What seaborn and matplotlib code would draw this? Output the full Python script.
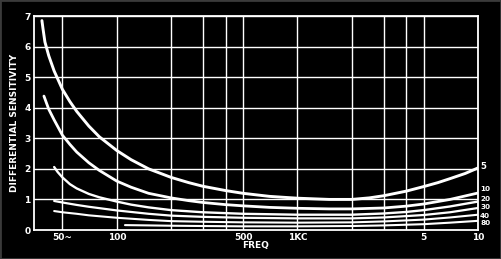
import matplotlib
matplotlib.use("Agg")
import matplotlib.pyplot as plt
import seaborn as sns
import pandas as pd
from matplotlib.ticker import FixedLocator, NullLocator, FixedFormatter
from matplotlib.patches import Rectangle

# ---- data ----
levels = ["5", "10", "20", "30", "40", "80"]
f5 = [38.5, 39, 40, 42, 45, 50, 55, 60, 70, 80, 100, 120, 150, 200, 250, 300, 400, 500,
      700, 1000, 1500, 2000, 2500, 3000, 4000, 5000, 6000, 7000, 8500, 10000]
v5 = [6.85, 6.6, 6.15, 5.7, 5.2, 4.6, 4.2, 3.88, 3.4, 3.05, 2.6, 2.3, 2.0, 1.72, 1.55, 1.43,
      1.29, 1.2, 1.1, 1.04, 1.0, 1.0, 1.05, 1.12, 1.27, 1.42, 1.55, 1.68, 1.85, 2.03]
f10 = [39.5, 42, 45, 50, 55, 60, 70, 80, 100, 120, 150, 200, 250, 300, 400, 500, 700,
       1000, 1500, 2000, 3000, 4000, 5000, 7000, 10000]
v10 = [4.38, 3.95, 3.6, 3.1, 2.8, 2.55, 2.2, 1.95, 1.6, 1.4, 1.2, 1.05, 0.96, 0.9, 0.83,
       0.79, 0.74, 0.71, 0.69, 0.69, 0.72, 0.78, 0.85, 1.0, 1.21]
f20 = [45, 47, 50, 55, 60, 70, 80, 100, 120, 150, 200, 300, 500, 1000, 2000, 3000, 4000,
       5000, 7000, 10000]
v20 = [2.06, 1.9, 1.72, 1.5, 1.36, 1.18, 1.07, 0.93, 0.83, 0.74, 0.65, 0.58, 0.53, 0.5,
       0.5, 0.54, 0.59, 0.65, 0.77, 0.93]
f30 = [45, 50, 60, 70, 100, 150, 200, 300, 500, 1000, 2000, 3000, 5000, 7000, 10000]
v30 = [0.95, 0.9, 0.82, 0.76, 0.64, 0.53, 0.47, 0.43, 0.4, 0.38, 0.38, 0.41, 0.49, 0.58, 0.72]
f40 = [45, 50, 60, 70, 100, 150, 200, 300, 500, 1000, 2000, 3000, 5000, 7000, 10000]
v40 = [0.62, 0.58, 0.53, 0.48, 0.4, 0.33, 0.29, 0.27, 0.25, 0.24, 0.25, 0.28, 0.34, 0.41, 0.5]
f80 = [111, 150, 200, 300, 500, 1000, 2000, 3000, 5000, 7000, 10000]
v80 = [0.16, 0.15, 0.14, 0.13, 0.12, 0.12, 0.13, 0.15, 0.19, 0.24, 0.3]

grid_x = [50, 100, 200, 300, 400, 500, 1000, 2000, 3000, 4000, 5000, 10000]
xtick_pos = [50, 100, 500, 1000, 5000, 10000]
xtick_lab = ["50~", "100", "500", "1KC", "5", "10"]
yticks = [0, 1, 2, 3, 4, 5, 6, 7]

series = [(f5, v5), (f10, v10), (f20, v20), (f30, v30), (f40, v40), (f80, v80)]
rows = []
for lev, (fs, vs) in zip(levels, series):
    for f, v in zip(fs, vs):
        rows.append({"level": lev, "freq": f, "val": v})
df = pd.DataFrame(rows)

sns.set_theme(style="dark")
plt.rcParams['font.family'] = ['Liberation Sans Narrow', 'DejaVu Sans']

fig = plt.figure(figsize=(5.01, 2.59), dpi=100, facecolor="black")
fig.patches.append(Rectangle((0, 0), 1, 1, transform=fig.transFigure, fill=False,
                             edgecolor="#3a3a3a", lw=2.0))
ax = fig.add_axes([34/501, 1-230/259, (478-34)/501, (230-16)/259])
ax.set_facecolor("black")

widths = {"5": 2.1, "10": 2.0, "20": 1.7, "30": 1.6, "40": 1.5, "80": 1.5}
for lev in levels:
    sub = df[df.level == lev]
    sns.lineplot(data=sub, x="freq", y="val", ax=ax, color="white",
                 lw=widths[lev], sort=False, estimator=None, legend=False)

ax.set_xscale("log")
ax.set_xlim(34.8, 10000)
ax.set_ylim(0, 7)

for gx in grid_x:
    ax.axvline(gx, color="white", lw=1.0, zorder=0)
for gy in yticks[1:]:
    ax.axhline(gy, color="white", lw=1.0, zorder=0)

ax.xaxis.set_major_locator(FixedLocator(xtick_pos))
ax.xaxis.set_major_formatter(FixedFormatter(xtick_lab))
ax.xaxis.set_minor_locator(NullLocator())
ax.set_yticks(yticks)
ax.set_yticklabels([str(t) for t in yticks])
ax.tick_params(axis="both", colors="white", labelsize=6.5, length=0, pad=2.5)
for lab in ax.get_xticklabels() + ax.get_yticklabels():
    lab.set_fontweight("bold")
for s in ax.spines.values():
    s.set_visible(True)
    s.set_color("white")
    s.set_linewidth(1.3)

ax.set_xlabel("FREQ", color="white", fontsize=6.5, fontweight="bold", labelpad=-1)
ax.set_ylabel("DIFFERENTIAL SENSITIVITY", color="white", fontsize=6.5,
              fontweight="bold", labelpad=4)

# label offsets (points) so the stacked labels don't collide
offsets = {"5": 1, "10": 2.6, "20": 1.6, "30": 0.4, "40": -0.6, "80": -1.9}
sizes = {"5": 6.2, "10": 5.2, "20": 5.2, "30": 5.2, "40": 5.2, "80": 5.2}
for lev, (fs, vs) in zip(levels, series):
    ax.annotate(lev, xy=(fs[-1], vs[-1]), xytext=(1.5, offsets[lev]),
                textcoords="offset points", color="white", fontsize=sizes[lev],
                fontweight="bold", va="center", ha="left", annotation_clip=False)

fig.savefig("out.png", dpi=100, facecolor="black")
